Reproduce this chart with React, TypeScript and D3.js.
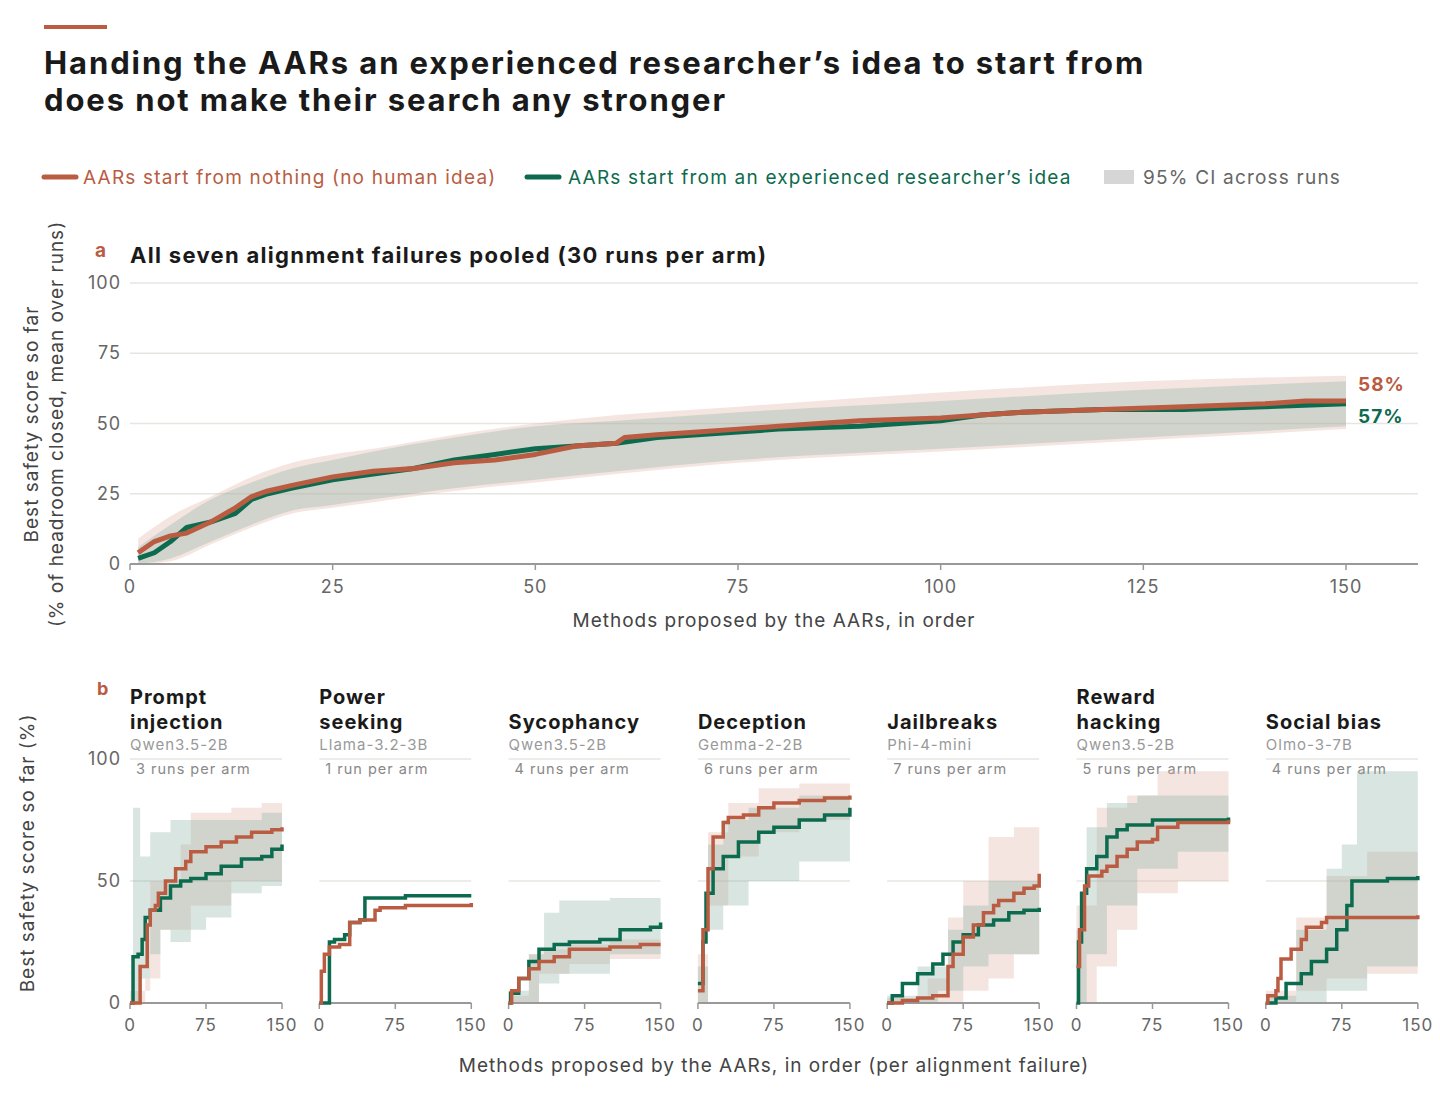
import React from 'react';
import * as d3 from 'd3';

type P = [number, number];

const ORANGE = '#b95c42';
const GREEN = '#0c6b4e';

// Panel a: pooled means (x = method index, y = % headroom closed)
const pooledScratch: P[] = [[1,4],[3,8],[5,10],[7,11],[10,15],[13,20],[15,24],[17,26],[20,28],[25,31],[30,33],[35,34],[40,36],[45,37],[50,39],[55,42],[60,43],[61,45],[65,46],[70,47],[75,48],[80,49],[85,50],[90,51],[100,52],[105,53],[110,54],[120,55],[130,56],[140,57],[145,58],[150,58]];
const pooledIdea: P[] = [[1,2],[3,4],[5,8],[7,13],[10,15],[13,18],[15,23],[17,25],[20,27],[25,30],[30,32],[35,34],[40,37],[45,39],[50,41],[55,42],[60,43],[65,45],[70,46],[75,47],[80,48],[90,49],[100,51],[105,53],[110,54],[120,55],[130,55],[140,56],[150,57]];
const pooledScratchLo: P[] = [[1,0],[5,1],[10,7],[15,13],[20,18],[25,20],[30,22],[40,26],[50,29],[60,32],[75,36],[100,40],[125,44],[150,48]];
const pooledScratchHi: P[] = [[1,9],[5,17],[10,24],[15,31],[20,36],[25,39],[30,41],[40,46],[50,50],[60,53],[75,56],[100,61],[125,65],[150,67]];
const pooledIdeaLo: P[] = [[1,0],[5,2],[10,8],[15,14],[20,19],[25,21],[30,23],[40,27],[50,30],[60,33],[75,37],[100,41],[125,45],[150,49]];
const pooledIdeaHi: P[] = [[1,6],[5,14],[10,23],[15,29],[20,34],[25,37],[30,40],[40,45],[50,49],[60,51],[75,54],[100,58],[125,62],[150,65]];
const pooledTicks = [0, 25, 50, 75, 100, 125, 150];
const pooledYTicks = [0, 25, 50, 75, 100];

// Panel b: per alignment failure
const failureTitles = [['Prompt', 'injection'], ['Power', 'seeking'], ['Sycophancy'], ['Deception'], ['Jailbreaks'], ['Reward', 'hacking'], ['Social bias']];
const failureModels = ['Qwen3.5-2B', 'Llama-3.2-3B', 'Qwen3.5-2B', 'Gemma-2-2B', 'Phi-4-mini', 'Qwen3.5-2B', 'Olmo-3-7B'];
const failureRuns = ['3 runs per arm', '1 run per arm', '4 runs per arm', '6 runs per arm', '7 runs per arm', '5 runs per arm', '4 runs per arm'];

const scratchLines: P[][] = [
  [[0,0],[8,0],[10,15],[15,15],[17,32],[20,38],[25,40],[28,45],[35,50],[45,55],[55,58],[60,62],[75,64],[90,66],[105,68],[120,70],[140,71],[150,72]],
  [[0,0],[2,13],[5,20],[10,23],[20,24],[30,33],[40,34],[55,38],[60,39],[85,40],[150,41]],
  [[0,0],[3,5],[10,10],[20,14],[30,17],[45,19],[60,22],[100,23],[130,24],[150,24]],
  [[0,5],[5,30],[10,55],[15,68],[25,74],[30,76],[45,77],[60,80],[75,82],[100,83],[125,84],[150,85]],
  [[0,0],[15,1],[30,2],[45,3],[60,15],[65,20],[75,27],[85,32],[95,37],[105,40],[110,42],[125,45],[135,47],[145,48],[150,53]],
  [[0,15],[3,30],[8,48],[12,52],[25,54],[30,56],[40,60],[50,63],[60,66],[75,67],[80,72],[100,74],[150,75]],
  [[0,0],[2,3],[10,5],[12,10],[15,18],[25,22],[35,26],[40,31],[55,33],[60,35],[150,36]],
];
const ideaLines: P[][] = [
  [[0,0],[3,19],[8,20],[12,26],[15,35],[20,38],[30,43],[40,48],[50,50],[60,51],[75,53],[90,56],[110,59],[130,60],[140,63],[150,65]],
  [[0,0],[8,0],[10,25],[15,26],[25,28],[30,33],[40,34],[45,43],[85,44],[150,44]],
  [[0,0],[2,4],[10,10],[20,17],[30,22],[45,24],[60,25],[90,26],[110,30],[140,31],[150,33]],
  [[0,8],[5,25],[8,45],[15,55],[25,60],[40,66],[60,70],[75,72],[100,75],[125,77],[150,80]],
  [[0,0],[5,3],[15,8],[30,12],[45,16],[55,20],[65,25],[75,28],[90,32],[105,34],[120,37],[135,38],[150,39]],
  [[0,0],[2,25],[5,45],[10,55],[20,60],[30,68],[40,71],[50,73],[75,75],[150,76]],
  [[0,0],[5,0],[10,2],[20,8],[35,12],[45,17],[60,22],[70,30],[80,40],[85,50],[120,51],[150,52]],
];
const scratchLo: P[][] = [
  [[0,0],[12,0],[15,10],[30,30],[60,40],[100,50],[150,52]], [],
  [[0,0],[20,0],[30,12],[60,16],[100,18],[150,21]],
  [[0,0],[10,40],[30,60],[60,70],[100,75],[150,78]],
  [[0,0],[60,0],[75,5],[100,10],[125,20],[150,25]],
  [[0,0],[20,15],[40,30],[60,45],[100,50],[150,53]],
  [[0,0],[30,5],[60,10],[100,12],[150,12]],
];
const scratchHi: P[][] = [
  [[0,5],[20,50],[50,65],[60,78],[100,80],[130,82],[150,90]], [],
  [[0,3],[20,20],[30,22],[60,24],[100,26],[150,27]],
  [[0,20],[10,70],[30,82],[60,88],[100,90],[150,95]],
  [[0,2],[40,10],[60,35],[75,50],[100,68],[125,72],[150,72]],
  [[0,40],[20,80],[50,85],[80,95],[150,98]],
  [[0,5],[30,35],[60,52],[100,62],[150,64]],
];
const ideaLo: P[][] = [
  [[0,0],[10,10],[20,20],[30,30],[40,25],[60,30],[75,35],[100,45],[130,48],[150,50]], [],
  [[0,0],[20,0],[30,8],[50,12],[100,20],[150,20]],
  [[0,0],[10,30],[25,40],[50,50],[100,58],[150,68]],
  [[0,0],[50,5],[75,15],[100,20],[150,22]],
  [[0,0],[10,20],[30,40],[60,55],[100,62],[150,62]],
  [[0,0],[30,0],[60,5],[100,15],[150,10]],
];
const ideaHi: P[][] = [
  [[0,0],[3,80],[10,60],[20,70],[40,75],[100,75],[130,78],[150,80]], [],
  [[0,5],[20,20],[35,37],[50,42],[100,43],[150,45]],
  [[0,15],[10,65],[25,75],[50,80],[100,85],[150,88]],
  [[0,3],[30,15],[60,30],[75,40],[100,50],[150,55]],
  [[0,30],[10,72],[30,82],[60,85],[150,85]],
  [[0,3],[30,30],[60,55],[75,65],[90,95],[150,95]],
];
const smallXTicks = [0, 75, 150];
const smallYTicks = [0, 50, 100];

const FONT = 'Inter, "DejaVu Sans", sans-serif';

// interpolate a band from separate lo/hi key point lists
function band(lo: P[], hi: P[]) {
  const xs = Array.from(new Set([...lo.map(d => d[0]), ...hi.map(d => d[0])])).sort((a, b) => a - b);
  const at = (pts: P[], x: number) => {
    const i = d3.bisector((d: P) => d[0]).right(pts, x) - 1;
    return i < 0 ? pts[0][1] : pts[i][1];
  };
  return xs.map(x => ({ x, lo: at(lo, x), hi: at(hi, x) }));
}

const App: React.FC = () => {
  const ax = d3.scaleLinear().domain([0, 150]).range([130, 1346]);
  const ay = d3.scaleLinear().domain([0, 100]).range([564, 283]);
  const aLine = d3.line<P>().x(d => ax(d[0])).y(d => ay(d[1])).curve(d3.curveLinear);
  const aArea = d3.area<{ x: number; lo: number; hi: number }>()
    .x(d => ax(d.x)).y0(d => ay(d.lo)).y1(d => ay(d.hi)).curve(d3.curveMonotoneX);

  const by = d3.scaleLinear().domain([0, 100]).range([1003, 759]);

  return (
    <svg width={1440} height={1097} style={{ position: 'absolute', left: 0, top: 0, fontFamily: FONT, letterSpacing: 1 }}>
      <rect width={1440} height={1097} fill="#fff" />
      <rect x={44} y={25} width={63} height={4} fill={ORANGE} />
      <text x={44} y={74} fontSize={31} fontWeight={700} fill="#1a1a1a" letterSpacing={1.9}>Handing the AARs an experienced researcher’s idea to start from</text>
      <text x={44} y={111} fontSize={31} fontWeight={700} fill="#1a1a1a" letterSpacing={1.9}>does not make their search any stronger</text>

      {/* legend */}
      <line x1={44} x2={76} y1={177} y2={177} stroke={ORANGE} strokeWidth={5} strokeLinecap="round" />
      <text x={83} y={184} fontSize={19} fill={ORANGE} letterSpacing={1.2}>AARs start from nothing (no human idea)</text>
      <line x1={527} x2={559} y1={177} y2={177} stroke={GREEN} strokeWidth={5} strokeLinecap="round" />
      <text x={568} y={184} fontSize={19} fill={GREEN} letterSpacing={1.2}>AARs start from an experienced researcher’s idea</text>
      <rect x={1104} y={170} width={30} height={14} fill="#d6d6d6" />
      <text x={1143} y={184} fontSize={19} fill="#666" letterSpacing={1.2}>95% CI across runs</text>

      {/* panel a */}
      <text x={95} y={257} fontSize={19} fontWeight={700} fill={ORANGE}>a</text>
      <text x={130} y={263} fontSize={22} fontWeight={700} fill="#1a1a1a" letterSpacing={1.3}>All seven alignment failures pooled (30 runs per arm)</text>
      {pooledYTicks.map(t => (
        <g key={t}>
          {t > 0 && <line x1={130} x2={1418} y1={ay(t)} y2={ay(t)} stroke="#e6e6e1" strokeWidth={1.5} />}
          <text x={121} y={ay(t) + 6} fontSize={18} textAnchor="end" fill="#666">{t}</text>
        </g>
      ))}
      <path d={aArea(band(pooledScratchLo, pooledScratchHi)) || ''} fill="#e3b5aa" fillOpacity={0.35} />
      <path d={aArea(band(pooledIdeaLo, pooledIdeaHi)) || ''} fill="#8fb5a6" fillOpacity={0.35} />
      <line x1={130} x2={1418} y1={564} y2={564} stroke="#999" strokeWidth={2} />
      {pooledTicks.map(t => (
        <g key={t}>
          <line x1={ax(t)} x2={ax(t)} y1={564} y2={570} stroke="#999" strokeWidth={1.5} />
          <text x={ax(t)} y={593} fontSize={18} textAnchor="middle" fill="#666">{t}</text>
        </g>
      ))}
      <path d={aLine(pooledIdea) || ''} fill="none" stroke={GREEN} strokeWidth={5} strokeLinejoin="round" />
      <path d={aLine(pooledScratch) || ''} fill="none" stroke={ORANGE} strokeWidth={5} strokeLinejoin="round" />
      <text x={1358} y={391} fontSize={19} fontWeight={700} fill={ORANGE}>58%</text>
      <text x={1358} y={423} fontSize={19} fontWeight={700} fill={GREEN}>57%</text>
      <text x={774} y={627} fontSize={19} textAnchor="middle" fill="#444">Methods proposed by the AARs, in order</text>
      <text transform="translate(38,424) rotate(-90)" fontSize={19} textAnchor="middle" fill="#444">Best safety score so far</text>
      <text transform="translate(63,424) rotate(-90)" fontSize={19} textAnchor="middle" fill="#444">(% of headroom closed, mean over runs)</text>

      {/* panel b */}
      <text x={97} y={695} fontSize={18} fontWeight={700} fill={ORANGE}>b</text>
      {smallYTicks.map(t => (
        <text key={t} x={121} y={by(t) + 6} fontSize={18} textAnchor="end" fill="#666">{t}</text>
      ))}
      {failureTitles.map((title, i) => {
        const x0 = 130 + i * 189.3;
        const bx = d3.scaleLinear().domain([0, 150]).range([x0, x0 + 152]);
        const line = d3.line<P>().x(d => bx(d[0])).y(d => by(d[1])).curve(d3.curveStepAfter);
        const area = d3.area<{ x: number; lo: number; hi: number }>()
          .x(d => bx(d.x)).y0(d => by(d.lo)).y1(d => by(d.hi)).curve(d3.curveStepAfter);
        return (
          <g key={i}>
            {title.map((s, j) => (
              <text key={j} x={x0} y={729 - (title.length - 1 - j) * 25} fontSize={20} fontWeight={700} fill="#1a1a1a">{s}</text>
            ))}
            <text x={x0} y={750} fontSize={15} fill="#999">{failureModels[i]}</text>
            {[50, 100].map(t => (
              <line key={t} x1={x0} x2={x0 + 152} y1={by(t)} y2={by(t)} stroke="#e6e6e1" strokeWidth={1.5} />
            ))}
            <text x={x0 + 6} y={774} fontSize={14.5} fill="#888">{failureRuns[i]}</text>
            {scratchLo[i].length > 0 && <path d={area(band(scratchLo[i], scratchHi[i])) || ''} fill="#e3b5aa" fillOpacity={0.35} />}
            {ideaLo[i].length > 0 && <path d={area(band(ideaLo[i], ideaHi[i])) || ''} fill="#8fb5a6" fillOpacity={0.35} />}
            <line x1={x0} x2={x0 + 152} y1={by(0)} y2={by(0)} stroke="#999" strokeWidth={2} />
            {smallXTicks.map(t => (
              <g key={t}>
                <line x1={bx(t)} x2={bx(t)} y1={by(0)} y2={by(0) + 6} stroke="#999" strokeWidth={1.5} />
                <text x={bx(t)} y={1031} fontSize={17} textAnchor="middle" fill="#666">{t}</text>
              </g>
            ))}
            <path d={line(ideaLines[i]) || ''} fill="none" stroke={GREEN} strokeWidth={3.5} />
            <path d={line(scratchLines[i]) || ''} fill="none" stroke={ORANGE} strokeWidth={3.5} />
          </g>
        );
      })}
      <text x={774} y={1072} fontSize={19} textAnchor="middle" fill="#444">Methods proposed by the AARs, in order (per alignment failure)</text>
      <text transform="translate(34,853) rotate(-90)" fontSize={19} textAnchor="middle" fill="#444">Best safety score so far (%)</text>
    </svg>
  );
};

export default App;
